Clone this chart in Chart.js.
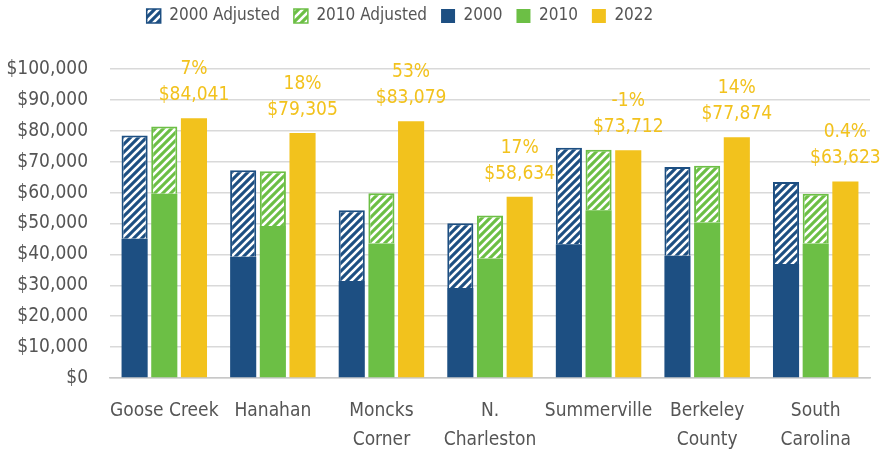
<!DOCTYPE html>
<html>
<head>
<meta charset="utf-8">
<script src="https://cdn.jsdelivr.net/npm/chart.js@4.4.0/dist/chart.umd.min.js"></script>
<style>
    html, body { margin: 0; padding: 0; background: #ffffff; }
    #wrap { width: 880px; height: 454px; position: relative; }
</style>
</head>
<body>
<div id="wrap"><canvas id="incomeChart"></canvas></div>
<script>
// DATA

const places = [
    ['Goose Creek'], ['Hanahan'], ['Moncks', 'Corner'], ['N.', 'Charleston'],
    ['Summerville'], ['Berkeley', 'County'], ['South', 'Carolina']
];
const income2000 = [45100, 39200, 31400, 29100, 43300, 39600, 36900];
const income2000Adjusted = [78500, 67200, 54300, 50100, 74500, 68300, 63400];
const income2010 = [59600, 49200, 43500, 38700, 54300, 50300, 43500];
const income2010Adjusted = [81400, 66900, 59800, 52600, 73900, 68700, 59600];
const income2022 = [84041, 79305, 83079, 58634, 73712, 77874, 63623];
const change2022 = ['7%', '18%', '53%', '17%', '-1%', '14%', '0.4%'];
const yTicks = [0, 10000, 20000, 30000, 40000, 50000, 60000, 70000, 80000, 90000, 100000];

const BLUE = '#1d4f82';
const GREEN = '#6cbf45';
const YELLOW = '#f2c21d';
const TEXT = '#555555';
const FONT = "'DejaVu Sans Condensed', 'DejaVu Sans', sans-serif";

// HATCH PATTERN

function makeHatch(color) {
    const size = 8;
    const c = document.createElement('canvas');
    c.width = size;
    c.height = size;
    const g = c.getContext('2d');
    g.fillStyle = color;
    g.fillRect(0, 0, size, size);
    g.strokeStyle = '#ffffff';
    g.lineWidth = 2.6;
    g.beginPath();
    for (let k = -1; k <= 1; k++) {
        g.moveTo(k * size - 1, size + 1);
        g.lineTo(k * size + size + 1, -1);
    }
    g.stroke();
    return g.createPattern(c, 'repeat');
}

// PLUGINS

// labels above the 2022 bars
const topLabels = {
    id: 'topLabels',
    afterDatasetsDraw(chart) {
        const meta = chart.getDatasetMeta(4);
        const ctx = chart.ctx;
        ctx.save();
        ctx.fillStyle = YELLOW;
        ctx.textAlign = 'center';
        ctx.textBaseline = 'middle';
        ctx.font = `19px ${FONT}`;
        meta.data.forEach((bar, i) => {
            ctx.fillText('$' + income2022[i].toLocaleString('en-US'), bar.x, bar.y - 23);
            ctx.fillText(change2022[i], bar.x, bar.y - 49);
        });
        ctx.restore();
    }
};

// extra room under the legend, and shift it left like the original
const legendSpace = {
    id: 'legendSpace',
    beforeInit(chart) {
        const fit = chart.legend.fit;
        chart.legend.fit = function () {
            fit.call(this);
            this.height += 34.5;
        };
    },
    afterLayout(chart) {
        const legend = chart.legend;
        const d = 400 - (legend.left + legend.right) / 2;
        legend.left += d;
        legend.right += d;
    }
};

// CHART

const legendOrder = [1, 3, 0, 2, 4];

function createChart() {
    const ctx = document.getElementById('incomeChart');
    const hatchBlue = makeHatch(BLUE);
    const hatchGreen = makeHatch(GREEN);

    new Chart(ctx, {
        type: 'bar',
        data: {
            labels: places,
            datasets: [
                { label: '2000', data: income2000, backgroundColor: BLUE, stack: 'a' },
                {
                    label: '2000 Adjusted',
                    data: income2000Adjusted.map((v, i) => v - income2000[i]),
                    backgroundColor: hatchBlue,
                    borderColor: BLUE,
                    borderWidth: { top: 2, left: 2, right: 2, bottom: 0 },
                    stack: 'a'
                },
                { label: '2010', data: income2010, backgroundColor: GREEN, stack: 'b' },
                {
                    label: '2010 Adjusted',
                    data: income2010Adjusted.map((v, i) => v - income2010[i]),
                    backgroundColor: hatchGreen,
                    borderColor: GREEN,
                    borderWidth: { top: 2, left: 2, right: 2, bottom: 0 },
                    stack: 'b'
                },
                { label: '2022', data: income2022, backgroundColor: YELLOW, stack: 'c' }
            ]
        },
        options: {
            responsive: true,
            maintainAspectRatio: false,
            animation: false,
            datasets: {
                bar: {
                    categoryPercentage: 0.82,
                    barPercentage: 0.88
                }
            },
            layout: {
                padding: { left: 4, right: 10, top: -6.5, bottom: 0 }
            },
            plugins: {
                legend: {
                    display: true,
                    position: 'top',
                    labels: {
                        boxWidth: 14,
                        boxHeight: 14,
                        padding: 14,
                        color: TEXT,
                        font: { family: FONT, size: 17 },
                        sort: (a, b) => legendOrder.indexOf(a.datasetIndex) - legendOrder.indexOf(b.datasetIndex)
                    }
                },
                tooltip: { enabled: false }
            },
            scales: {
                x: {
                    stacked: true,
                    afterFit: axis => {
                        axis.height = 76;
                    },
                    grid: { display: false },
                    border: { display: true, color: '#c8c8c8', width: 1.5 },
                    ticks: {
                        color: TEXT,
                        padding: 10,
                        maxRotation: 0,
                        autoSkip: false,
                        font: { family: FONT, size: 19, lineHeight: 1.55 }
                    }
                },
                y: {
                    stacked: true,
                    min: 0,
                    max: 100000,
                    afterBuildTicks: axis => {
                        axis.ticks = yTicks.map(v => ({ value: v }));
                    },
                    afterFit: axis => {
                        axis.width = 106;
                    },
                    grid: { color: '#d9d9d9', lineWidth: 1.5, drawTicks: false },
                    border: { display: false },
                    ticks: {
                        color: TEXT,
                        padding: 22,
                        font: { family: FONT, size: 19 },
                        callback: v => '$' + Number(v).toLocaleString('en-US')
                    }
                }
            }
        },
        plugins: [topLabels, legendSpace]
    });
}

document.addEventListener('DOMContentLoaded', createChart);
</script>
</body>
</html>
